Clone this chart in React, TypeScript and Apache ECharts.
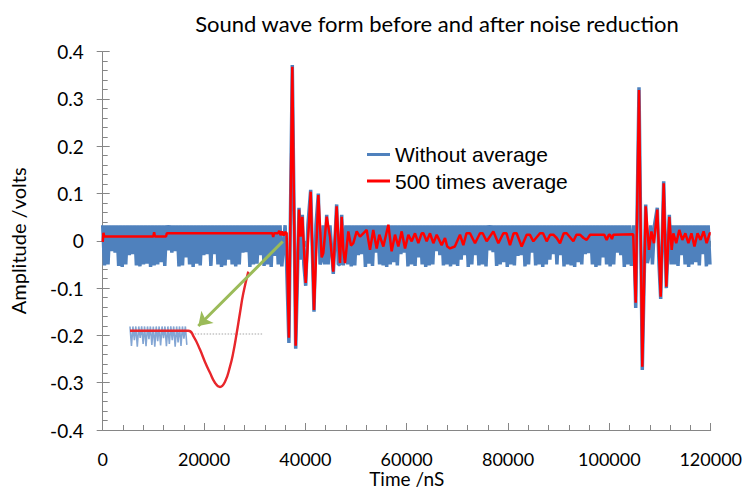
import React, { useEffect, useRef } from "react";
import * as echarts from "echarts";

const TITLE = "Sound wave form before and after noise reduction";
const X_NAME = "Time /nS";
const Y_NAME = "Amplitude /volts";
const SERIES_NAMES = ["Without average", "500 times average"];

const X_MIN = 0;
const X_MAX = 120000;
const X_STEP = 20000;
const Y_MIN = -0.4;
const Y_MAX = 0.4;
const Y_STEP = 0.1;

// ---- "Without average" (raw) : noise band segments + bursts ----
const NOISE_HIGH = 0.033;
const NOISE_PERIOD = 700; // ns between noise spikes
const noise1Start = 0;
const noise1Lows = [
  -0.052, -0.05, -0.022, -0.025, -0.053, -0.055, -0.05, -0.03, -0.028, -0.052,
  -0.054, -0.05, -0.048, -0.055, -0.052, -0.05, -0.045, -0.053, -0.02, -0.025,
  -0.022, -0.054, -0.052, -0.035, -0.05, -0.055, -0.048, -0.052, -0.03, -0.028,
  -0.053, -0.028, -0.05, -0.055, -0.052, -0.04, -0.05, -0.054, -0.05, -0.025,
  -0.024, -0.055, -0.05, -0.048, -0.03, -0.053, -0.05, -0.055, -0.032, -0.05,
  -0.054,
];
const rawBurst1: [number, number][] = [
  [36000, 0.033], [36300, -0.05], [36750, -0.216], [37420, 0.372], [38090, -0.228],
  [38500, -0.05], [38745, 0.07], [39075, -0.04], [39400, 0.055], [39700, -0.05],
  [40065, -0.095], [40500, 0.033], [41050, 0.108], [41705, -0.15], [42100, 0.033],
  [42560, 0.1], [42900, -0.05], [43220, -0.04], [43500, 0.033], [43800, -0.05],
  [44210, 0.055], [44500, -0.05], [44860, 0.033], [45510, -0.07], [46175, 0.077],
  [46500, -0.05], [46835, -0.05], [47170, 0.055], [47490, -0.052],
];
const noise2Start = 48000;
const noise2Lows = [
  -0.05, -0.054, -0.052, -0.03, -0.028, -0.055, -0.048, -0.053, -0.025, -0.05,
  -0.052, -0.055, -0.05, -0.045, -0.052, -0.028, -0.025, -0.054, -0.05, -0.053,
  -0.035, -0.05, -0.055, -0.052, -0.05, -0.022, -0.03, -0.052, -0.05, -0.054,
  -0.05, -0.053, -0.04, -0.03, -0.055, -0.05, -0.03, -0.052, -0.05, -0.054,
  -0.02, -0.024, -0.053, -0.05, -0.045, -0.055, -0.05, -0.052, -0.032, -0.03,
  -0.054, -0.05, -0.025, -0.052, -0.05, -0.055, -0.05, -0.04, -0.028, -0.05,
  -0.03, -0.054, -0.05, -0.052, -0.055, -0.045, -0.05, -0.028, -0.026, -0.05,
  -0.055, -0.052, -0.035, -0.05, -0.054, -0.05, -0.025, -0.03, -0.055, -0.05,
  -0.053,
];
const rawBurst2: [number, number][] = [
  [104800, 0.033], [105200, -0.142], [105850, 0.325], [106500, -0.273], [107170, 0.077],
  [107500, -0.047], [107820, -0.03], [108150, 0.033], [108500, -0.05], [108900, 0.033],
  [109460, 0.07], [109800, -0.05], [110130, -0.123], [110720, 0.126], [111240, -0.1],
  [111830, 0.055], [112200, -0.05],
];
const noise3Start = 112500;
const noise3Lows = [-0.05, -0.053, -0.03, -0.05, -0.055, -0.05, -0.045, -0.052, -0.028, -0.054, -0.05];

// ---- "500 times average" ----
const avgLead: [number, number][] = [
  [0, -0.002], [150, 0.017], [300, 0.009], [10000, 0.009], [10150, 0.018], [10300, 0.009],
  [12500, 0.009], [12650, 0.016], [33500, 0.016], [33650, 0.008], [33800, 0.016],
  [34600, 0.016], [34850, 0.021], [35100, 0.012], [35400, 0.02], [35700, 0.011],
  [36000, 0.019], [36300, 0.016],
];
const avgBurst1: [number, number][] = [
  [36750, -0.205], [37420, 0.368], [38090, -0.222], [38745, 0.066], [39075, 0.009],
  [39400, 0.051], [40065, -0.089], [41050, 0.104], [41705, -0.146], [42560, 0.097],
  [43220, -0.035], [43540, -0.026], [44210, 0.051], [44860, 0.009], [45510, -0.065],
  [46175, 0.073], [46500, 0.009], [46835, -0.047], [47170, 0.051], [47490, -0.019],
  [47820, -0.047], [48475, 0.02], [49000, -0.01], [49460, -0.005], [50130, 0.02],
  [50780, 0.009], [51430, 0.016], [52100, 0.023], [52760, -0.019],
];
const avgTail1: [number, number][] = [
  [53400, 0.023], [54070, -0.016], [54600, 0.013], [55390, -0.012], [56380, 0.034],
  [57030, -0.022], [57690, 0.013], [58350, -0.012], [59010, 0.02], [59670, -0.016],
  [60320, 0.013], [60980, -0.001], [61640, 0.016], [62300, -0.005], [62950, 0.016],
  [63300, 0.016], [63940, -0.001], [64600, 0.016], [65260, -0.005], [65920, 0.013],
  [66900, -0.009], [67560, 0.006], [68000, -0.012], [68550, -0.016], [69500, -0.012],
  [70520, 0.013], [71180, -0.009], [71800, 0.016], [72490, 0.016], [73480, -0.005],
  [74470, 0.016], [75000, 0.016], [75780, -0.001], [77100, 0.02], [78090, -0.005],
  [79070, 0.016], [79700, 0.016], [80390, -0.009], [81100, 0.016], [81700, 0.016],
  [82690, -0.012], [83680, 0.013], [84300, 0.013], [85000, -0.001], [86310, 0.016],
  [86900, 0.016], [87630, -0.001], [88300, 0.013], [88940, 0.013], [89600, 0.006],
  [90260, -0.005], [91000, 0.016], [91570, 0.016], [92890, -0.001], [93500, 0.013],
  [94200, 0.013], [94900, 0.006], [95520, 0.002], [96200, 0.013], [96840, 0.013],
  [99000, 0.013], [99470, 0.002], [99900, 0.013], [100130, 0.013], [100500, 0.004],
  [100800, 0.013], [104700, 0.014],
];
const avgBurst2: [number, number][] = [
  [105200, -0.131], [105850, 0.319], [106500, -0.266], [107170, 0.073], [107820, -0.019],
  [108300, 0.02], [108800, -0.005], [109460, 0.066], [110130, -0.118], [110720, 0.122],
  [111240, -0.097], [111830, 0.051], [112300, -0.019],
];
const avgTail2: [number, number][] = [
  [112630, 0.016], [113200, -0.005], [113800, 0.023], [114400, 0.002], [115000, 0.016],
  [115600, -0.005], [116200, 0.016], [116800, -0.012], [117400, 0.016], [118000, 0.002],
  [118600, 0.02], [119200, -0.005], [119800, 0.016], [120000, 0.016],
];

// ---- zoomed inset of the onset (drawn in the plot's data units) ----
const insetRawStart = 5390;
const insetRawStep = 575;
const insetRawHigh = -0.181;
const insetRawLows = [
  -0.222, -0.21, -0.224, -0.205, -0.218, -0.223, -0.208, -0.22, -0.224, -0.212,
  -0.221, -0.206, -0.223, -0.218, -0.21, -0.224, -0.215, -0.222, -0.207, -0.22,
];
const insetAvg: [number, number][] = [
  [5390, -0.19], [16890, -0.19], [17980, -0.203], [19200, -0.23], [20190, -0.256],
  [21180, -0.279], [22160, -0.3], [23150, -0.309], [24140, -0.298], [25120, -0.266],
  [25720, -0.239], [26450, -0.195], [27100, -0.152], [27750, -0.111], [28740, -0.065],
];
const insetBaseline: [number, number][] = [[17550, -0.197], [31680, -0.197]];
const arrowFrom: [number, number] = [35530, -0.0015];
const arrowTo: [number, number] = [18870, -0.18];

function noisePairs(start: number, lows: number[], high: number, step: number): [number, number][] {
  const out: [number, number][] = [];
  lows.forEach((low, i) => {
    out.push([start + i * step, high]);
    out.push([start + i * step + step / 2, low]);
  });
  return out;
}

const rawData: [number, number][] = [
  ...noisePairs(noise1Start, noise1Lows, NOISE_HIGH, NOISE_PERIOD),
  ...rawBurst1,
  ...noisePairs(noise2Start, noise2Lows, NOISE_HIGH, NOISE_PERIOD),
  ...rawBurst2,
  ...noisePairs(noise3Start, noise3Lows, NOISE_HIGH, NOISE_PERIOD),
];
const avgData: [number, number][] = [...avgLead, ...avgBurst1, ...avgTail1, ...avgBurst2, ...avgTail2];
const insetRawData = noisePairs(insetRawStart, insetRawLows, insetRawHigh, insetRawStep);

const AXIS_COLOR = "#868686";
const TEXT_FONT = "Lato";
const RAW_COLOR = "#4f81bd";
const AVG_COLOR = "#ff0000";

export default function App() {
  const ref = useRef<HTMLDivElement>(null);
  useEffect(() => {
    if (!ref.current) return;
    const chart = echarts.init(ref.current, undefined, { renderer: "svg" });
    const tickLine = { color: AXIS_COLOR, width: 1 };
    chart.setOption({
      animation: false,
      backgroundColor: "#ffffff",
      title: {
        text: TITLE,
        left: 432,
        top: 7,
        textAlign: "center",
        textStyle: { fontFamily: TEXT_FONT, fontSize: 22, fontWeight: "normal", color: "#000" },
      },
      legend: {
        data: [
          { name: SERIES_NAMES[0], icon: "rect", itemStyle: { color: RAW_COLOR } },
          { name: SERIES_NAMES[1], icon: "rect", itemStyle: { color: AVG_COLOR } },
        ],
        orient: "vertical",
        left: 362,
        top: 139,
        itemWidth: 23,
        itemHeight: 3,
        itemGap: 5.5,
        textStyle: { fontFamily: "Liberation Sans", fontSize: 21, color: "#000" },
      },
      grid: {
        left: 102.7,
        right: 36.3,
        top: 51.7,
        bottom: 61,
        containLabel: false,
        outerBoundsMode: "none",
      },
      xAxis: [
        {
          type: "value",
          min: X_MIN,
          max: X_MAX,
          interval: X_STEP,
          name: X_NAME,
          nameLocation: "middle",
          nameGap: 40,
          nameMoveOverlap: false,
          nameTextStyle: { fontFamily: TEXT_FONT, fontSize: 19, lineHeight: 17, color: "#000" },
          axisLine: { show: true, onZero: false, lineStyle: tickLine },
          axisTick: { show: true, inside: true, length: 7, lineStyle: tickLine },
          minorTick: { show: true, splitNumber: 5, length: 5, lineStyle: tickLine },
          splitLine: { show: false },
          axisLabel: {
            margin: 20,
            fontFamily: TEXT_FONT,
            fontSize: 18,
            lineHeight: 18,
            color: "#000",
            formatter: (v: number) => String(v),
          },
        },
        {
          type: "value",
          min: X_MIN,
          max: X_MAX,
          interval: X_STEP,
          position: "bottom",
          axisLine: { show: false },
          axisTick: { show: true, inside: false, length: 6, lineStyle: tickLine },
          splitLine: { show: false },
          axisLabel: { show: false },
        },
      ],
      yAxis: [
        {
          type: "value",
          min: Y_MIN,
          max: Y_MAX,
          interval: Y_STEP,
          name: Y_NAME,
          nameLocation: "middle",
          nameRotate: 90,
          nameGap: 75,
          nameTextStyle: { fontFamily: TEXT_FONT, fontSize: 20, color: "#000" },
          axisLine: { show: true, onZero: false, lineStyle: tickLine },
          axisTick: { show: true, inside: true, length: 7, lineStyle: tickLine },
          minorTick: { show: true, splitNumber: 5, length: 5, lineStyle: tickLine },
          splitLine: { show: false },
          axisLabel: {
            margin: 19,
            fontFamily: TEXT_FONT,
            fontSize: 19,
            color: "#000",
            formatter: (v: number) => String(Math.round(v * 10) / 10),
          },
        },
        {
          type: "value",
          min: Y_MIN,
          max: Y_MAX,
          interval: Y_STEP,
          position: "left",
          axisLine: { show: false },
          axisTick: { show: true, inside: false, length: 6, lineStyle: tickLine },
          splitLine: { show: false },
          axisLabel: { show: false },
        },
      ],
      series: [
        {
          name: SERIES_NAMES[0],
          type: "line",
          data: rawData,
          symbol: "none",
          color: RAW_COLOR,
          lineStyle: { color: RAW_COLOR, width: 3.5 },
          silent: true,
        },
        {
          name: SERIES_NAMES[1],
          type: "line",
          data: avgData,
          symbol: "none",
          color: AVG_COLOR,
          lineStyle: { color: AVG_COLOR, width: 2.5 },
          silent: true,
        },
        {
          name: "inset raw",
          type: "line",
          data: insetRawData,
          symbol: "none",
          lineStyle: { color: "#6f97cc", width: 1.6, opacity: 0.85 },
          silent: true,
        },
        {
          name: "inset baseline",
          type: "line",
          data: insetBaseline,
          symbol: "none",
          lineStyle: { color: "#c4c4c4", width: 1.5, type: "dotted" },
          silent: true,
          markLine: {
            silent: true,
            symbol: ["none", "arrow"],
            symbolSize: 13,
            label: { show: false },
            lineStyle: { color: "#9bbb59", width: 3, type: "solid" },
            emphasis: { disabled: true },
            data: [[{ coord: arrowFrom }, { coord: arrowTo }]],
          },
        },
        {
          name: "inset average",
          type: "line",
          data: insetAvg,
          smooth: true,
          symbol: "none",
          lineStyle: { color: "#e8262b", width: 2.4 },
          silent: true,
        },
      ],
    });
    return () => chart.dispose();
  }, []);
  return (
    <div
      ref={ref}
      style={{ position: "absolute", left: 0, top: 0, width: 747, height: 491, background: "#fff" }}
    />
  );
}
